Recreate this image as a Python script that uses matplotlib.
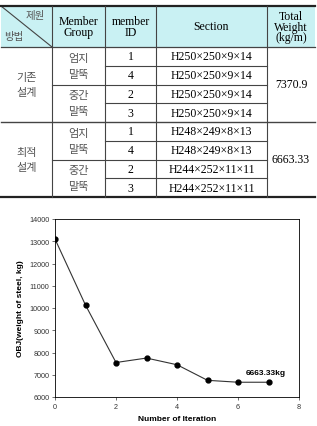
import matplotlib.pyplot as plt

# table data
methods = ["기존\n설계", "최적\n설계"]
member_groups = ["엄지\n말뚝", "중간\n말뚝"]
member_ids = [[1, 4, 2, 3], [1, 4, 2, 3]]
sections = [
    ["H250×250×9×14", "H250×250×9×14", "H250×250×9×14", "H250×250×9×14"],
    ["H248×249×8×13", "H248×249×8×13", "H244×252×11×11", "H244×252×11×11"],
]
totals = ["7370.9", "6663.33"]

# chart data
iterations = [0, 1, 2, 3, 4, 5, 6, 7]
obj_weight = [13100, 10130, 7550, 7750, 7450, 6750, 6663.33, 6663.33]

W, H = 317, 427
fig = plt.figure(figsize=(W / 100, H / 100), dpi=100)

# %% table drawn in pixel coords
tax = fig.add_axes([0, 0, 1, 1])
tax.set_xlim(0, W)
tax.set_ylim(H, 0)
tax.axis("off")

cols = [1, 52, 105, 156, 267, 315]
top, head_bot = 7, 48
row_h = 18.75
tfont = ["Liberation Serif", "Noto Sans CJK KR"]
fs = 8.5
lc = "#444444"
kc = "#555555"

tax.add_patch(plt.Rectangle((cols[0], top), cols[-1] - cols[0], head_bot - top,
                            facecolor="#c9f1f3", edgecolor="none"))
tax.plot([cols[0], cols[1]], [top, head_bot], color=lc, lw=0.8)
tax.text(45, 16, "제원", ha="right", va="center", fontsize=fs - 1, family=tfont, color=kc)
tax.text(4, 37, "방법", ha="left", va="center", fontsize=fs - 1, family=tfont, color=kc)
headers = ["Member\nGroup", "member\nID", "Section", "Total\nWeight\n(kg/m)"]
for i, h in enumerate(headers):
    tax.text((cols[i + 1] + cols[i + 2]) / 2, (top + head_bot) / 2, h, ha="center",
             va="center", fontsize=fs, family=tfont, linespacing=0.85)

for g in range(2):
    g0 = head_bot + g * 4 * row_h
    tax.text((cols[0] + cols[1]) / 2, g0 + 2 * row_h, methods[g], ha="center",
             va="center", fontsize=fs - 0.5, family=tfont, linespacing=1.7, color=kc)
    tax.text((cols[4] + cols[5]) / 2, g0 + 2 * row_h, totals[g], ha="center",
             va="center", fontsize=fs, family=tfont)
    for k in range(2):
        tax.text((cols[1] + cols[2]) / 2, g0 + (2 * k + 1) * row_h, member_groups[k],
                 ha="center", va="center", fontsize=fs - 0.5, family=tfont,
                 linespacing=1.7, color=kc)
    for r in range(4):
        yc = g0 + (r + 0.5) * row_h
        tax.text((cols[2] + cols[3]) / 2, yc, str(member_ids[g][r]), ha="center",
                 va="center", fontsize=fs, family=tfont)
        tax.text((cols[3] + cols[4]) / 2, yc, sections[g][r], ha="center",
                 va="center", fontsize=fs, family=tfont)
        if r > 0:
            x0 = cols[2] if r != 2 else cols[1]
            tax.plot([x0, cols[4]], [g0 + r * row_h, g0 + r * row_h], color=lc, lw=0.8)

bottom = head_bot + 8 * row_h
tax.plot([cols[0], cols[-1]], [top, top], color="#222222", lw=1.6)
tax.plot([cols[0], cols[-1]], [head_bot, head_bot], color=lc, lw=0.9)
tax.plot([cols[0], cols[-1]], [head_bot + 4 * row_h] * 2, color=lc, lw=1.0)
tax.plot([cols[0], cols[-1]], [bottom, bottom], color="#222222", lw=1.6)
for x in cols[1:-1]:
    tax.plot([x, x], [top, bottom], color=lc, lw=0.8)

# %% convergence chart
ax = fig.add_axes([55 / W, 1 - 398 / H, 244 / W, 178 / H])
ax.plot(iterations, obj_weight, color="#333333", lw=0.8, marker="o",
        markersize=3.5, markerfacecolor="black", markeredgecolor="black")
ax.set_xlim(0, 8)
ax.set_ylim(6000, 14000)
ax.set_xticks(range(0, 9, 2))
ax.set_yticks(range(6000, 14001, 1000))
ax.tick_params(labelsize=5.2, length=2, width=0.5, pad=2, colors="#333333")
for s in ax.spines.values():
    s.set_linewidth(0.6)
ax.set_xlabel("Number of Iteration", fontsize=6, fontweight="bold",
              family="Liberation Sans", labelpad=4)
ax.set_ylabel("OBJ(weight of steel, kg)", fontsize=6, fontweight="bold",
              family="Liberation Sans", labelpad=4)
ax.annotate("6663.33kg", (iterations[-1], obj_weight[-1]), xytext=(6.25, 7100),
            fontsize=6, fontweight="bold", family="Liberation Sans", va="center")
for lbl in ax.get_xticklabels() + ax.get_yticklabels():
    lbl.set_family("Liberation Sans")

fig.savefig("out.png", dpi=100)
